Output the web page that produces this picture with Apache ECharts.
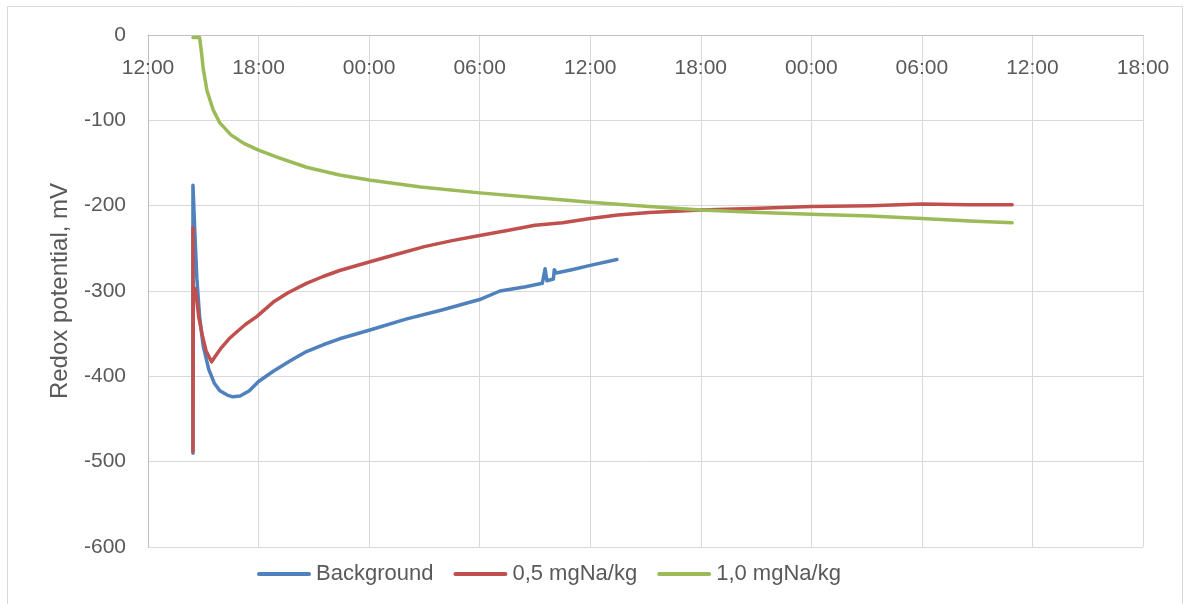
<!DOCTYPE html>
<html>
<head>
<meta charset="utf-8">
<style>
  html, body { margin: 0; padding: 0; background: #ffffff; }
  #chart { width: 1186px; height: 604px; }
</style>
<script src="https://cdn.jsdelivr.net/npm/echarts@6/dist/echarts.min.js"></script>
</head>
<body>
<div id="chart"></div>
<script>
// Time in hours after 12:00 on the first day
const seriesNames = ["Background", "0,5 mgNa/kg", "1,0 mgNa/kg"];

const bgTime = [2.44, 2.44, 2.55, 2.65, 2.8, 3.0, 3.3, 3.6, 3.9, 4.3, 4.6, 5.0, 5.5, 6.0, 6.8, 7.7, 8.6, 9.5, 10.4, 12.0, 14.0, 16.0, 18.0, 19.1, 20.5, 21.4, 21.5, 21.55, 21.6, 21.65, 22.0, 22.05, 22.1, 22.15, 22.2, 23.0, 24.0, 25.45];
const bgVal  = [-490, -176, -235, -285, -330, -365, -392, -408, -417, -422, -424, -423, -417, -406, -394, -382, -371, -363, -356, -346, -333, -322, -310, -300, -295, -291, -290, -274, -274, -288, -286, -275, -275, -279, -279, -275, -270, -263];

const redTime = [2.44, 2.44, 2.46, 2.55, 2.62, 2.75, 2.95, 3.15, 3.45, 3.7, 4.0, 4.4, 4.81, 5.3, 5.9, 6.8, 7.6, 8.6, 9.5, 10.4, 12.0, 13.5, 15.0, 16.5, 18.0, 19.5, 21.0, 22.5, 24.0, 25.5, 27.2, 30.0, 33.2, 36.0, 39.2, 42.0, 44.5, 46.9];
const redVal  = [-226, -488, -300, -297, -305, -330, -352, -370, -383, -375, -366, -356, -348, -339, -330, -313, -302, -291, -283, -276, -266, -257, -248, -241, -235, -229, -223, -220, -215, -211, -208, -205, -203, -201, -200, -198, -199, -199];

const grTime = [2.44, 2.8, 2.9, 3.0, 3.2, 3.54, 3.9, 4.5, 5.2, 6.0, 7.0, 8.6, 10.4, 12.0, 14.8, 18.0, 21.3, 24.0, 27.2, 30.0, 33.2, 36.0, 39.2, 42.0, 44.6, 46.9];
const grVal  = [-3, -3, -20, -40, -65, -88, -103, -117, -127, -135, -143, -155, -164, -170, -178, -185, -191, -196, -201, -205, -208, -210, -212, -215, -218, -220];

const xStartHour = 12;   // axis starts at 12:00
const xMax = 54;
const xStep = 6;
const yMin = -600, yMax = 0, yStep = 100;
const yAxisTitle = "Redox potential, mV";

const colors = ["#4F81BD", "#C0504D", "#9BBB59"];
const pairs = (t, v) => t.map((x, i) => [x, v[i]]);
const dataSets = [pairs(bgTime, bgVal), pairs(redTime, redVal), pairs(grTime, grVal)];

const FONT = "Liberation Sans";
const TXT = "#595959";
const LEGEND_ICON = 'path://M2,0 L52,0 A2,2 0 0 1 52,4 L2,4 A2,2 0 0 1 2,0 Z';

const chart = echarts.init(document.getElementById('chart'), null, { renderer: 'canvas' });
chart.setOption({
  animation: false,
  backgroundColor: '#ffffff',
  textStyle: { fontFamily: FONT },
  graphic: [{
    type: 'rect', silent: true, z: -10,
    shape: { x: 7.5, y: 6.5, width: 1175, height: 620 },
    style: { fill: 'none', stroke: '#d9d9d9', lineWidth: 1 }
  }],
  grid: { left: 148, top: 35, right: 43, bottom: 57, containLabel: false },
  legend: {
    left: 252, bottom: 14,
    icon: LEGEND_ICON,
    itemWidth: 54, itemHeight: 4, itemGap: 20,
    textStyle: { fontFamily: FONT, fontSize: 22, color: TXT },
    data: seriesNames
  },
  xAxis: {
    type: 'value', position: 'top', min: 0, max: xMax, interval: xStep,
    axisLine: { show: true, onZero: false, lineStyle: { color: '#bfbfbf', width: 1 } },
    axisTick: { show: false },
    axisLabel: {
      inside: true, margin: 23, fontFamily: FONT, fontSize: 21, color: TXT,
      showMinLabel: true, showMaxLabel: true,
      formatter: v => String((xStartHour + v) % 24).padStart(2, '0') + ':00'
    },
    splitLine: { show: true, lineStyle: { color: '#d9d9d9', width: 1 } }
  },
  yAxis: {
    type: 'value', min: yMin, max: yMax, interval: yStep,
    name: yAxisTitle, nameLocation: 'middle', nameGap: 76, nameRotate: 90,
    nameTextStyle: { fontFamily: FONT, fontSize: 24, color: TXT },
    axisLine: { show: true, lineStyle: { color: '#bfbfbf', width: 1 } },
    axisTick: { show: false },
    axisLabel: { margin: 22, fontFamily: FONT, fontSize: 21, color: TXT },
    splitLine: { show: true, lineStyle: { color: '#d9d9d9', width: 1 } }
  },
  series: seriesNames.map((n, i) => ({
    name: n, type: 'line', data: dataSets[i],
    symbol: 'none', showSymbol: false, smooth: false,
    lineStyle: { color: colors[i], width: 3.5, cap: 'round', join: 'round' },
    itemStyle: { color: colors[i] }
  }))
});
</script>
</body>
</html>
